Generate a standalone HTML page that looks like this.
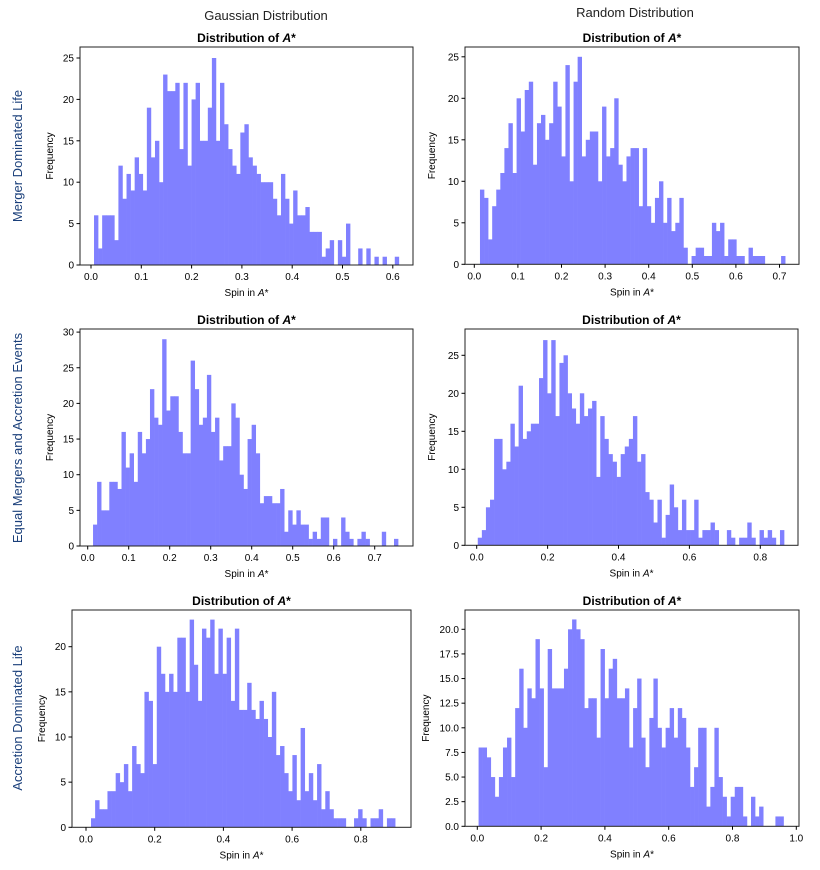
<!DOCTYPE html>
<html><head><meta charset="utf-8"><style>
body{margin:0;background:#fff;width:820px;height:870px;overflow:hidden;font-family:"Liberation Sans",sans-serif}
svg{position:absolute;left:0;top:0}
</style></head><body>
<svg id="chart" width="820" height="870" xmlns="http://www.w3.org/2000/svg"></svg>
<script>
const counts1=[6,2,6,6,6,3,12,8,11,9,13,11,9,19,13,15,10,23,21,21,22,14,22,12,20,22,15,15,19,25,15,22,17,14,12,11,16,17,13,12,11,10,10,10,8,6,11,8,5,9,6,6,7,4,4,4,1,2,3,0,3,1,5,0,0,2,0,2,0,1,0,1,0,0,1];
const counts2=[9,8,3,7,9,11,14,17,11,20,16,21,22,12,17,18,15,17,22,19,13,24,10,22,25,13,15,16,16,10,19,13,14,20,12,10,13,14,14,7,14,7,5,8,10,5,8,4,5,8,2,0,1,2,2,1,1,5,4,5,1,3,3,1,1,0,2,1,1,1,0,0,0,0,1];
const counts3=[3,9,5,5,9,9,8,16,11,13,9,16,13,15,22,18,17,29,19,21,21,16,13,13,26,22,17,18,24,16,18,12,14,14,20,18,10,8,15,17,13,6,7,7,6,6,8,2,5,3,5,3,3,1,2,1,4,4,0,1,0,4,2,1,0,1,2,1,0,0,0,2,0,0,1];
const counts4=[1,2,5,6,14,14,10,11,16,13,21,14,15,16,16,22,27,20,27,17,24,25,20,18,16,20,17,18,19,9,17,14,12,11,9,12,13,14,17,11,12,7,6,3,6,1,4,8,5,2,6,2,2,6,1,2,2,3,2,0,0,2,1,0,1,1,3,1,0,2,1,2,1,0,2];
const counts5=[1,3,2,2,4,4,6,5,7,4,9,7,6,15,14,7,20,17,15,17,15,21,21,15,23,18,14,22,21,23,17,22,17,21,14,22,13,13,16,13,12,14,12,10,15,8,9,6,4,8,3,11,4,6,3,7,2,4,2,1,1,1,0,0,1,2,1,0,1,1,2,0,1,1];
const counts6=[8,8,7,5,3,5,8,9,5,12,16,10,14,13,19,14,6,18,14,14,14,16,20,21,20,19,12,13,13,9,18,13,16,17,13,13,14,8,12,15,9,6,11,15,10,8,10,12,9,12,11,8,4,6,10,10,2,4,10,5,3,1,3,4,4,1,0,3,1,2,0,0,0,1,1];
const dataMin=[0.006,0.013,0.013,0.003,0.0146,0.004];
const dataMax=[0.612,0.713,0.757,0.867,0.90,0.96];
const xTicks1=[0,0.1,0.2,0.3,0.4,0.5,0.6];
const xTicks2=[0,0.1,0.2,0.3,0.4,0.5,0.6,0.7];
const xTicks3=[0,0.1,0.2,0.3,0.4,0.5,0.6,0.7];
const xTicks4=[0,0.2,0.4,0.6,0.8];
const xTicks5=[0,0.2,0.4,0.6,0.8];
const xTicks6=[0,0.2,0.4,0.6,0.8,1.0];
const yTicks1=[0,5,10,15,20,25];
const yTicks2=[0,5,10,15,20,25];
const yTicks3=[0,5,10,15,20,25,30];
const yTicks4=[0,5,10,15,20,25];
const yTicks5=[0,5,10,15,20];
const yTicks6=[0,2.5,5,7.5,10,12.5,15,17.5,20];

const NS="http://www.w3.org/2000/svg";
const svg=document.getElementById('chart');
function mk(tag,attrs,parent){const e=document.createElementNS(NS,tag);for(const k in attrs)e.setAttribute(k,attrs[k]);(parent||svg).appendChild(e);return e;}

const panels=[
 {L:80,T:47,R:413,B:265,x0:91,xs:503,yu:8.28,c:counts1,xt:xTicks1,yt:yTicks1,yd:1},
 {L:465,T:47,R:799,B:264.3,x0:474.3,xs:436,yu:8.3,c:counts2,xt:xTicks2,yt:yTicks2,yd:1},
 {L:80,T:329,R:413,B:546,x0:87.7,xs:410,yu:7.13,c:counts3,xt:xTicks3,yt:yTicks3,yd:1},
 {L:465,T:329,R:798,B:545.3,x0:476.7,xs:354.5,yu:7.6,c:counts4,xt:xTicks4,yt:yTicks4,yd:1},
 {L:72,T:610,R:411,B:827.3,x0:86,xs:343.5,yu:9.03,c:counts5,xt:xTicks5,yt:yTicks5,yd:1},
 {L:465,T:610,R:799,B:826.3,x0:477.3,xs:319,yu:9.85,c:counts6,xt:xTicks6,yt:yTicks6,yd:2}
];
panels.forEach((p,i)=>{
 const g=mk('g',{});
 
 
 const xPx=v=>p.x0+v*p.xs;
 const yPx=v=>p.B-v*p.yu;
 const n=p.c.length, w=(dataMax[i]-dataMin[i])/n;
 p.c.forEach((v,k)=>{
  if(v<=0)return;
  const x1=xPx(dataMin[i]+k*w), x2=xPx(dataMin[i]+(k+1)*w);
  const r=mk('rect',{x:x1,y:yPx(v),width:x2-x1+0.3,height:v*p.yu,fill:'#8080ff'},g);
  
  
 });
 const fr=mk('rect',{x:p.L,y:p.T,width:p.R-p.L,height:p.B-p.T,fill:'none',stroke:'#222','stroke-width':1},g);
 
 
 p.xt.forEach(t=>{
  const x=xPx(t);
  mk('line',{x1:x,x2:x,y1:p.B,y2:p.B+3.5,stroke:'#000'},g);
  const tx=mk('text',{x:x,y:p.B+15,'font-size':10,'text-anchor':'middle'},g);
  tx.textContent=t.toFixed(1);
  
  
 });
 p.yt.forEach(t=>{
  const y=yPx(t);
  mk('line',{x1:p.L,x2:p.L-3.5,y1:y,y2:y,stroke:'#000'},g);
  const tx=mk('text',{x:p.L-6,y:y+3.5,'font-size':10,'text-anchor':'end'},g);
  tx.textContent=p.yd===2?t.toFixed(1):String(t);
  
  
 });
 const cx=(p.L+p.R)/2;
 const ti=mk('text',{x:cx,y:p.T-5,'font-size':12,'text-anchor':'middle','font-weight':'bold'},g);
 ti.innerHTML='Distribution of <tspan font-style="italic">A</tspan>*';
 
 
 const xl=mk('text',{x:cx,y:p.B+31,'font-size':10,'text-anchor':'middle'},g);
 xl.innerHTML='Spin in <tspan font-style="italic">A</tspan>*';
 
 
 const yl=mk('text',{x:0,y:0,'font-size':10,'text-anchor':'middle',transform:'translate('+(p.L-(i===5?36:i%2?30:27))+','+((p.T+p.B)/2)+') rotate(-90)'},g);
 yl.textContent='Frequency';
 
 
});
const heads=[['Gaussian Distribution',266,20,'gaussian-column-header'],['Random Distribution',635,17,'random-column-header']];
heads.forEach(h=>{const t=mk('text',{x:h[1],y:h[2],'font-size':13,'text-anchor':'middle',fill:'#222'});t.textContent=h[0];
 
 });
const rows=[['Merger Dominated Life',156,'merger-row-label'],['Equal Mergers and Accretion Events',438,'equal-row-label'],['Accretion Dominated Life',718,'accretion-row-label']];
rows.forEach(r=>{const t=mk('text',{x:0,y:0,'font-size':13,'text-anchor':'middle',fill:'#1a3f7a',transform:'translate(22,'+r[1]+') rotate(-90)'});t.textContent=r[0];
 
 });
</script>
</body></html>
